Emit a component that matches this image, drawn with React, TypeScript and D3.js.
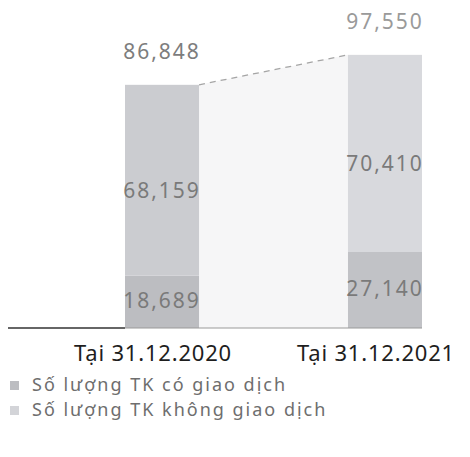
import * as d3 from "d3"

const categories = ["Tại 31.12.2020", "Tại 31.12.2021"]
const activeAccounts = [68159, 70410]
const inactiveAccounts = [18689, 27140]
const totals = [86848, 97550]
const seriesNames = ["Số lượng TK có giao dịch", "Số lượng TK không giao dịch"]

const W = 470
const H = 457
const base = 328
const fmt = d3.format(",")
const font = "'Noto Sans', 'Open Sans', sans-serif"

export default function App() {
  const x = d3.scaleBand<string>().domain(categories).range([125, 422]).paddingInner(0.668).paddingOuter(0)
  const y = d3.scaleLinear().domain([0, 100000]).range([base, base - 280])
  const bw = x.bandwidth()

  // bar colors per category
  const topFill = ["#cbccd0", "#d8d9dd"]
  const botFill = ["#bcbdc1", "#c1c2c6"]
  const totalColor = ["#7d7d7d", "#9a9a9a"]

  const x0 = x(categories[0])! + bw
  const x1 = x(categories[1])!
  const yT0 = y(totals[0])
  const yT1 = y(totals[1])

  return (
    <div style={{ position: "fixed", left: 0, top: 0 }}>
      <svg width={W} height={H} style={{ display: "block", background: "#fff" }}>
        {/* connector between the two totals */}
        <polygon points={`${x0},${yT0} ${x1},${yT1} ${x1},${base} ${x0},${base}`} fill="#f6f6f7" />
        <line x1={x0} y1={yT0} x2={x1} y2={yT1} stroke="#a5a5a5" strokeWidth={1.3} strokeDasharray="6,5" />

        {categories.map((c, i) => {
          const bx = x(c)!
          const cx = bx + bw / 2
          const yb = y(inactiveAccounts[i])
          const yt = y(inactiveAccounts[i] + activeAccounts[i])
          return (
            <g key={c}>
              <rect x={bx} y={yb} width={bw} height={base - yb} fill={botFill[i]} />
              <rect x={bx} y={yt} width={bw} height={yb - yt} fill={topFill[i]} />
              <text x={cx} y={(yb + base) / 2 + 6} textAnchor="middle" fontFamily={font} fontSize={21} letterSpacing={2} fill="#7a7a7a">
                {fmt(inactiveAccounts[i])}
              </text>
              <text x={cx} y={y(inactiveAccounts[i] + activeAccounts[i] * 0.45) + 8} textAnchor="middle" fontFamily={font} fontSize={21} letterSpacing={2} fill="#7a7a7a">
                {fmt(activeAccounts[i])}
              </text>
              <text x={cx} y={y(totals[i]) - 26} textAnchor="middle" fontFamily={font} fontSize={21} letterSpacing={2} fill={totalColor[i]}>
                {fmt(totals[i])}
              </text>
              <text x={cx - 9} y={361} textAnchor="middle" fontFamily={font} fontSize={22} letterSpacing={0.8} fill="#1e1e1e">
                {c}
              </text>
            </g>
          )
        })}

        {/* baseline */}
        <line x1={8} y1={base} x2={x(categories[0])!} y2={base} stroke="#333" strokeWidth={1.6} />
        <line x1={x(categories[0])!} y1={base} x2={x(categories[1])! + bw} y2={base} stroke="#9a9a9a" strokeWidth={1.2} />

        {/* legend */}
        {seriesNames.map((s, i) => (
          <g key={s} transform={`translate(10, ${381 + i * 25})`}>
            <rect x={0} y={0} width={9} height={9} fill={i === 0 ? "#bcbdc1" : "#d3d4d8"} />
            <text x={22} y={10} fontFamily={font} fontSize={18} letterSpacing={2} fill="#6e6e6e">
              {s}
            </text>
          </g>
        ))}
      </svg>
    </div>
  )
}
